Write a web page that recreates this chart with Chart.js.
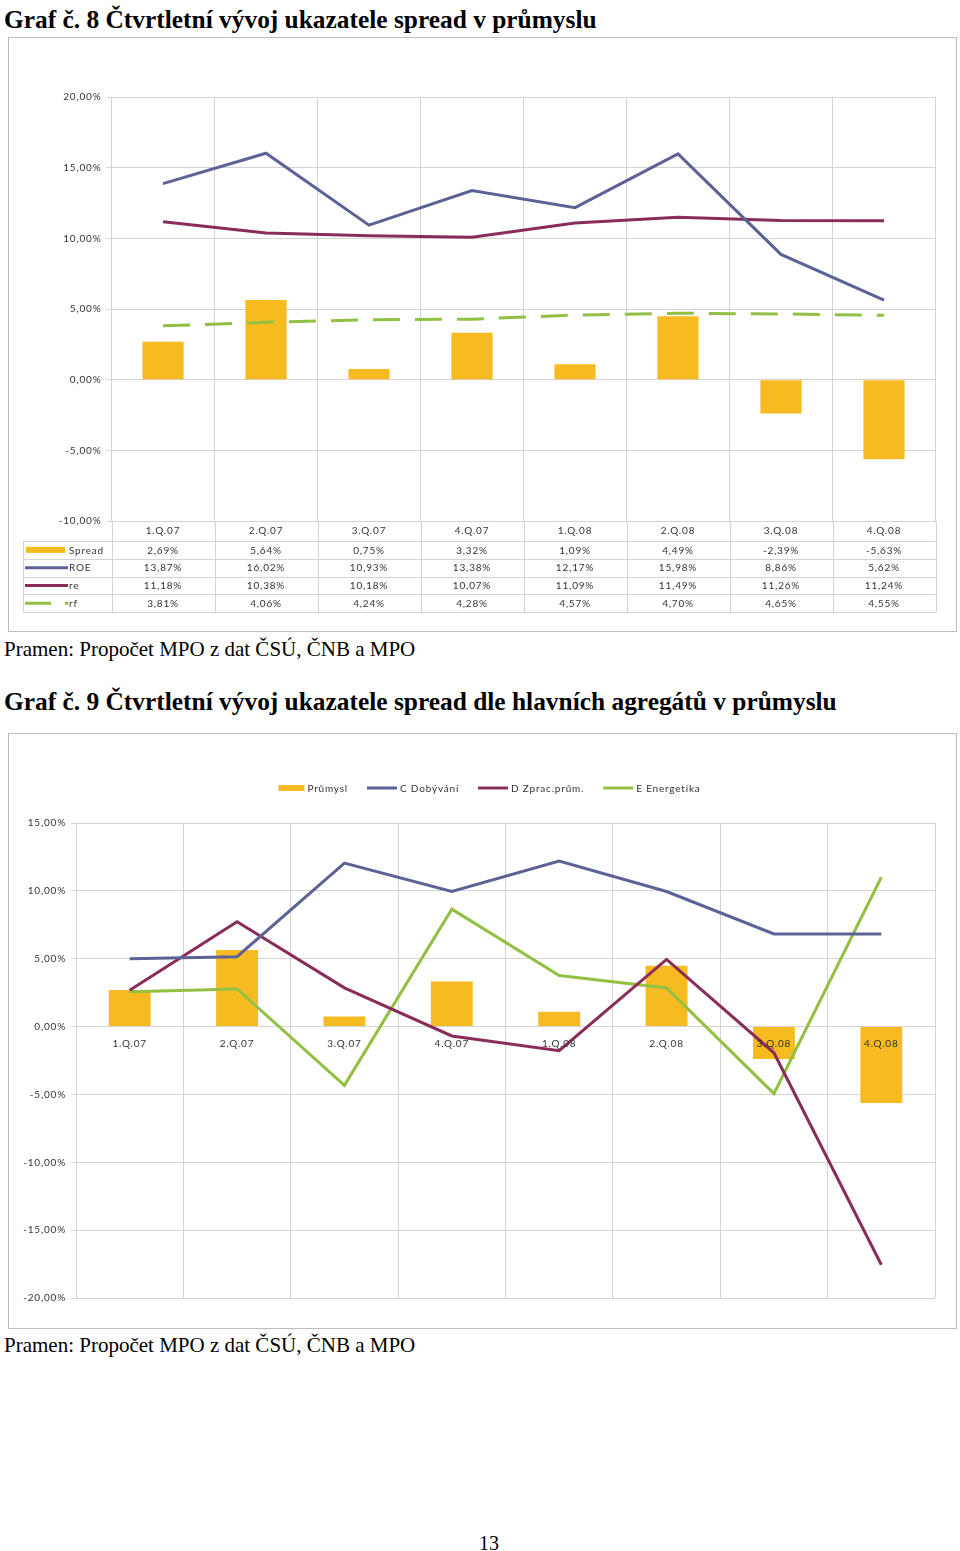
<!DOCTYPE html>
<html><head><meta charset="utf-8">
<script src="https://cdn.jsdelivr.net/npm/chart.js@4.4.1/dist/chart.umd.min.js"></script>
<style>
body{margin:0;background:#fff;width:960px;height:1551px;position:relative;overflow:hidden;font-family:"Liberation Serif","Times New Roman",serif;color:#000}
.t{position:absolute;left:4px;margin:0;white-space:nowrap;line-height:1;font-weight:normal}
h1.t{font-size:25.4px;font-weight:bold}
.src{font-size:21px}
.box{position:absolute;left:8px;width:949px;border:1px solid #bdbdbd;box-sizing:border-box;background:#fff}
.box canvas{display:block}
</style></head><body>
<h1 class="t" style="top:7px">Graf č. 8 Čtvrtletní vývoj ukazatele spread v průmyslu</h1>
<div class="box" style="top:37px;height:595px"><canvas id="c1" width="947" height="593"></canvas></div>
<div class="t src" style="top:639px">Pramen: Propočet MPO z dat ČSÚ, ČNB a MPO</div>
<h1 class="t" style="top:689px">Graf č. 9 Čtvrtletní vývoj ukazatele spread dle hlavních agregátů v průmyslu</h1>
<div class="box" style="top:733px;height:596px"><canvas id="c2" width="947" height="594"></canvas></div>
<div class="t src" style="top:1335px">Pramen: Propočet MPO z dat ČSÚ, ČNB a MPO</div>
<div class="t" style="top:1533px;left:0;width:978px;text-align:center;font-size:20px">13</div>
<script>
// ---- data ----
const categories = ['1.Q.07','2.Q.07','3.Q.07','4.Q.07','1.Q.08','2.Q.08','3.Q.08','4.Q.08'];
const spread = [2.69, 5.64, 0.75, 3.32, 1.09, 4.49, -2.39, -5.63];
const roe    = [13.87, 16.02, 10.93, 13.38, 12.17, 15.98, 8.86, 5.62];
const re     = [11.18, 10.38, 10.18, 10.07, 11.09, 11.49, 11.26, 11.24];
const rf     = [3.81, 4.06, 4.24, 4.28, 4.57, 4.70, 4.65, 4.55];
const yTicks1 = [-10, -5, 0, 5, 10, 15, 20];

const prumysl    = [2.69, 5.64, 0.75, 3.32, 1.09, 4.49, -2.39, -5.63];
const dobyvani   = [5.00, 5.15, 12.05, 9.95, 12.20, 9.95, 6.83, 6.83];
const zprac      = [2.67, 7.72, 2.85, -0.69, -1.78, 4.95, -1.93, -17.55];
const energetika = [2.57, 2.77, -4.33, 8.65, 3.76, 2.85, -4.94, 11.00];
const yTicks2 = [-20, -15, -10, -5, 0, 5, 10, 15];

// ---- styles ----
const C_ORANGE = '#F5BB21', C_BLUE = '#5C6295', C_RED = '#8A2C5A', C_GREEN = '#92C043';
const GRID = '#d3d3d3', TXT = '#333333';
const FONT = '10px Lato, "Open Sans", sans-serif';
const LS = '0.8px';

Chart.defaults.font.family = 'Lato, "Open Sans", sans-serif';
Chart.defaults.font.size = 10;
Chart.defaults.color = TXT;

const fmt = v => v.toFixed(2).replace('.', ',') + '%';

const spacing = {
  id: 'spacing',
  beforeUpdate(c) { c.ctx.letterSpacing = LS; },
  beforeDraw(c) { c.ctx.letterSpacing = LS; }
};

function yAxis(ticks, width) {
  return {
    min: ticks[0], max: ticks[ticks.length - 1],
    afterFit(s) { s.width = width; },
    ticks: { stepSize: 5, padding: 5, callback: v => fmt(v), color: TXT },
    grid: { color: GRID, tickLength: 5 },
    border: { color: GRID }
  };
}

// ---- chart 1 table plugin ----
const table1 = {
  id: 'table1',
  afterDraw(chart) {
    const { ctx, chartArea: a, scales: { x } } = chart;
    const half = (x.getPixelForValue(1) - x.getPixelForValue(0)) / 2;
    const top = a.bottom + 20, rowH = 17.8, left = 14;
    const rows = [
      { label: 'Spread', data: spread, kind: 'bar', color: C_ORANGE },
      { label: 'ROE', data: roe, kind: 'line', color: C_BLUE },
      { label: 're', data: re, kind: 'line', color: C_RED },
      { label: 'rf', data: rf, kind: 'dash', color: C_GREEN }
    ];
    const bottom = top + rowH * rows.length;
    ctx.save();
    ctx.letterSpacing = LS;
    ctx.strokeStyle = GRID; ctx.lineWidth = 1;
    ctx.beginPath();
    for (let r = 0; r <= rows.length; r++) {
      const y = Math.round(top + r * rowH) + 0.5;
      ctx.moveTo(left, y); ctx.lineTo(a.right, y);
    }
    ctx.moveTo(left + 0.5, top); ctx.lineTo(left + 0.5, bottom);
    for (let i = 0; i <= categories.length; i++) {
      const xx = Math.round(x.getPixelForValue(i) - half) + 0.5;
      ctx.moveTo(xx, a.bottom); ctx.lineTo(xx, bottom);
    }
    ctx.stroke();
    ctx.font = FONT; ctx.fillStyle = TXT; ctx.textAlign = 'center'; ctx.textBaseline = 'middle';
    categories.forEach((c, i) => ctx.fillText(c, x.getPixelForValue(i), a.bottom + 10));
    rows.forEach((row, r) => {
      const cy = top + r * rowH + rowH / 2;
      ctx.fillStyle = TXT; ctx.textAlign = 'center';
      row.data.forEach((v, i) => ctx.fillText(fmt(v), x.getPixelForValue(i), cy + 0.5));
      ctx.textAlign = 'left';
      ctx.fillText(row.label, 60, cy + 0.5);
      if (row.kind === 'bar') {
        ctx.fillStyle = row.color; ctx.fillRect(17, cy - 3, 39, 6);
      } else {
        ctx.strokeStyle = row.color; ctx.lineWidth = 3;
        ctx.setLineDash(row.kind === 'dash' ? [26, 14] : []);
        ctx.beginPath(); ctx.moveTo(16, cy); ctx.lineTo(59, cy); ctx.stroke();
        ctx.setLineDash([]);
      }
    });
    ctx.restore();
  }
};

new Chart(document.getElementById('c1'), {
  type: 'bar',
  data: {
    labels: categories,
    datasets: [
      { type: 'line', label: 'ROE', data: roe, borderColor: C_BLUE, borderWidth: 3, pointRadius: 0, tension: 0, order: 1 },
      { type: 'line', label: 're', data: re, borderColor: C_RED, borderWidth: 3, pointRadius: 0, tension: 0, order: 2 },
      { type: 'line', label: 'rf', data: rf, borderColor: C_GREEN, borderWidth: 3, borderDash: [27, 15], pointRadius: 0, tension: 0, order: 3 },
      { type: 'bar', label: 'Spread', data: spread, backgroundColor: C_ORANGE, barPercentage: 0.4, categoryPercentage: 1, order: 10 }
    ]
  },
  options: {
    responsive: false, animation: false,
    layout: { padding: { left: 0, right: 20.5, top: 59, bottom: 110 } },
    plugins: { legend: { display: false }, tooltip: { enabled: false } },
    scales: {
      x: { offset: true, grid: { offset: true, color: GRID, drawTicks: false }, border: { color: GRID }, ticks: { display: false } },
      y: yAxis(yTicks1, 102.5)
    }
  },
  plugins: [spacing, table1]
});

// ---- chart 2 legend plugin ----
const legend2 = {
  id: 'legend2',
  afterDraw(chart) {
    const { ctx } = chart;
    const items = [
      { label: 'Průmysl', color: C_ORANGE, kind: 'bar', kw: 26 },
      { label: 'C Dobývání', color: C_BLUE, kind: 'line', kw: 30 },
      { label: 'D Zprac.prům.', color: C_RED, kind: 'line', kw: 30 },
      { label: 'E Energetika', color: C_GREEN, kind: 'line', kw: 30 }
    ];
    ctx.save();
    ctx.letterSpacing = LS; ctx.font = FONT; ctx.textBaseline = 'middle'; ctx.textAlign = 'left';
    const gap = 3, itemGap = 19;
    const widths = items.map(it => it.kw + gap + ctx.measureText(it.label).width);
    const total = widths.reduce((s, w) => s + w, 0) + itemGap * (items.length - 1);
    let xx = chart.width / 2 - total / 2 + 7;
    const cy = 54;
    items.forEach((it, i) => {
      if (it.kind === 'bar') { ctx.fillStyle = it.color; ctx.fillRect(xx, cy - 3, it.kw, 6); }
      else { ctx.strokeStyle = it.color; ctx.lineWidth = 3; ctx.beginPath(); ctx.moveTo(xx, cy); ctx.lineTo(xx + it.kw, cy); ctx.stroke(); }
      ctx.fillStyle = TXT;
      ctx.fillText(it.label, xx + it.kw + gap, cy + 0.5);
      xx += widths[i] + itemGap;
    });
    ctx.restore();
  }
};

new Chart(document.getElementById('c2'), {
  type: 'bar',
  data: {
    labels: categories,
    datasets: [
      { type: 'line', label: 'C Dobývání', data: dobyvani, borderColor: C_BLUE, borderWidth: 3, pointRadius: 0, tension: 0, order: 1 },
      { type: 'line', label: 'D Zprac.prům.', data: zprac, borderColor: C_RED, borderWidth: 3, pointRadius: 0, tension: 0, order: 2 },
      { type: 'line', label: 'E Energetika', data: energetika, borderColor: C_GREEN, borderWidth: 3, pointRadius: 0, tension: 0, order: 3 },
      { type: 'bar', label: 'Průmysl', data: prumysl, backgroundColor: C_ORANGE, barPercentage: 0.39, categoryPercentage: 1, order: 10 }
    ]
  },
  options: {
    responsive: false, animation: false,
    layout: { padding: { left: 0, right: 21, top: 89, bottom: 30 } },
    plugins: { legend: { display: false }, tooltip: { enabled: false } },
    scales: {
      x: { position: { y: 0 }, z: 1, offset: true, grid: { offset: true, color: GRID, drawTicks: false }, border: { color: GRID }, ticks: { padding: 11, color: TXT, maxRotation: 0, z: 1 } },
      y: yAxis(yTicks2, 67)
    }
  },
  plugins: [spacing, legend2]
});
</script>
</body></html>
